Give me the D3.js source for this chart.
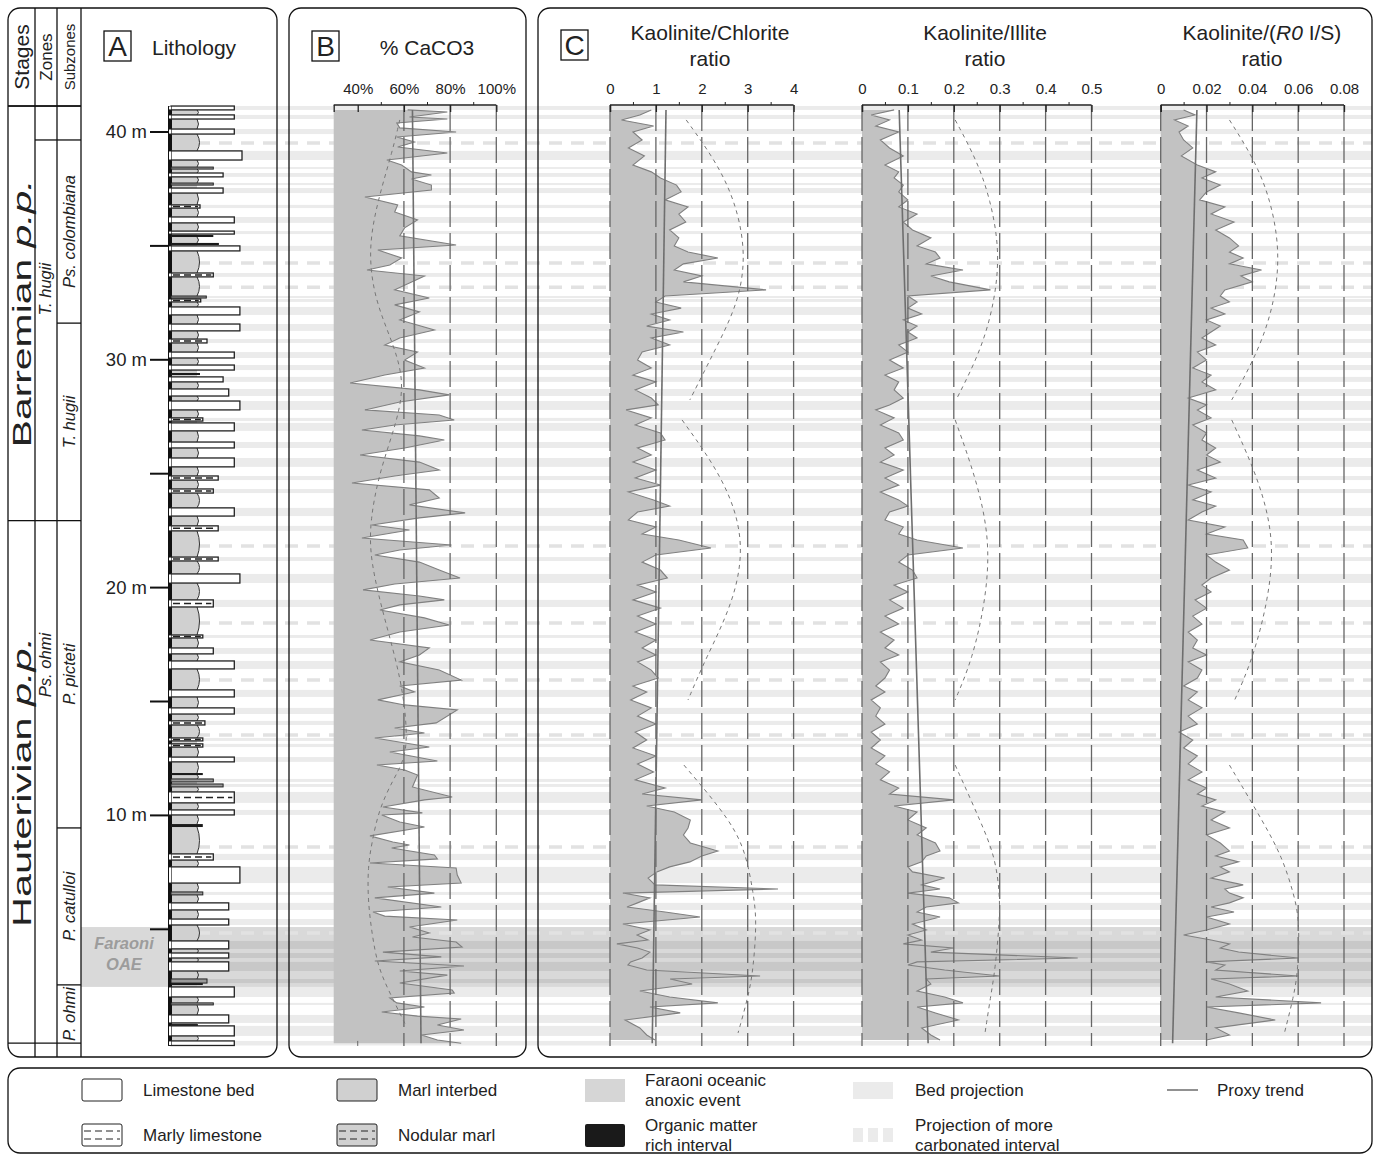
<!DOCTYPE html>
<html><head><meta charset="utf-8">
<script src="https://cdn.jsdelivr.net/npm/d3@7"></script>
<style>body{margin:0;background:#fff;} text{font-family:"Liberation Sans",Arial,sans-serif;fill:#222;}</style>
</head><body>
<svg id="c" width="1378" height="1155"></svg>
<script>
// ---------------- DATA ----------------
const depthTicks = [40,35,30,25,20,15,10,5];
const depthLabels = {40:"40 m",30:"30 m",20:"20 m",10:"10 m"};

// CaCO3 (%)
const caco3Depth = [40.97,40.88,40.66,40.57,40.40,40.18,40.00,39.78,39.56,39.34,39.08,38.77,38.55,38.25,38.11,37.94,37.67,37.45,37.15,36.80,36.49,36.14,35.79,35.44,35.04,34.82,34.47,34.16,33.94,33.68,33.37,33.07,32.71,32.41,32.10,31.75,31.31,30.96,30.65,30.34,29.99,29.64,29.33,28.98,28.68,28.46,28.15,27.80,27.58,27.36,27.14,26.92,26.66,26.48,26.13,25.82,25.51,25.16,24.90,24.59,24.29,23.93,23.63,23.28,23.06,22.75,22.53,22.18,21.87,21.65,21.43,21.12,20.77,20.42,20.16,19.90,19.63,19.46,19.24,19.02,18.67,18.36,18.05,17.70,17.35,17.04,16.74,16.38,15.94,15.68,15.42,15.07,14.85,14.63,14.06,13.84,13.62,13.40,13.00,12.78,12.39,12.21,11.99,11.77,11.25,10.81,10.68,10.37,10.11,10.02,9.71,9.49,9.10,8.83,8.70,8.57,8.26,8.09,7.91,7.69,7.38,7.03,6.86,6.59,6.38,5.98,5.76,5.58,5.41,5.10,4.84,4.66,4.44,4.22,4.00,3.79,3.61,3.39,3.17,2.99,2.64,2.34,2.20,1.99,1.77,1.59,1.37,1.19,1.06,0.80,0.58,0.36,0.14,0.0];
const caco3Value = [61.6,78.8,62.4,78.8,56.9,58.2,82.6,56.9,64.6,57.3,78.8,52.6,59.0,63.3,71.9,63.3,71.9,71.9,43.1,57.3,56.0,65.9,60.3,58.2,82.6,48.7,59.0,53.9,44.0,68.9,62.4,56.0,71.0,56.0,66.7,58.2,73.2,58.2,51.7,65.9,60.3,68.9,51.7,36.7,66.7,79.6,58.2,43.1,75.3,81.8,56.0,41.8,66.7,77.5,60.3,41.0,66.7,75.3,56.0,37.5,71.0,75.3,62.4,86.5,66.7,46.1,62.4,41.8,80.5,58.2,47.4,66.7,75.3,84.3,56.0,42.3,66.7,77.5,58.2,49.6,68.9,79.6,58.2,45.3,71.0,66.7,58.2,75.3,84.8,58.2,64.6,48.7,60.3,83.1,74.0,56.0,68.9,47.4,71.0,53.9,74.5,48.3,60.3,65.9,63.7,80.9,68.9,50.9,68.0,50.4,58.2,68.9,45.3,55.2,62.4,54.7,73.2,74.5,45.3,82.6,83.1,84.8,53.0,73.2,47.4,76.2,46.6,51.7,83.1,62.4,71.0,63.7,82.6,85.2,50.9,76.2,47.4,86.0,58.2,78.8,58.2,80.9,81.8,53.9,56.9,68.9,50.4,65.9,84.8,74.5,86.0,67.6,74.5,84.8];
const caco3TrendDepth = [40.97, 0.0];
const caco3TrendValue = [63.7, 67.4];
const caco3CycleDepth = [40.53,39.21,37.02,34.82,32.63,30.87,29.11,27.36,25.16,22.97,21.21,18.58,15.94,13.62,12.43,11.55,10.24,8.79,7.74,6.29,4.84,3.35,2.20,0.71];
const caco3CycleValue = [58.2,55.2,48.7,44.4,47.4,54.7,60.3,57.3,49.6,45.3,45.3,51.7,59.0,61.6,60.3,55.2,49.1,46.1,44.4,44.4,46.1,48.7,53.9,61.2];

// Clay mineral samples (shared depths, m)
const clayDepth = [40.97,40.75,40.53,40.26,40.00,39.65,39.30,38.95,38.55,38.25,37.98,37.67,37.37,37.02,36.71,36.40,36.05,35.70,35.35,35.00,34.73,34.47,34.21,33.94,33.68,33.42,33.07,32.80,32.54,32.27,32.01,31.75,31.48,31.22,30.96,30.65,30.34,29.99,29.64,29.33,29.03,28.68,28.32,28.02,27.80,27.45,27.14,26.79,26.48,26.13,25.82,25.51,25.16,24.81,24.50,24.20,23.85,23.58,23.32,22.97,22.66,22.35,22.09,21.74,21.43,21.12,20.77,20.42,20.11,19.81,19.46,19.10,18.75,18.40,18.05,17.70,17.35,17.04,16.74,16.38,16.03,15.68,15.42,15.07,14.72,14.36,14.01,13.66,13.31,12.96,12.61,12.26,11.91,11.56,11.20,10.94,10.68,10.41,10.15,9.80,9.45,9.14,8.79,8.44,8.22,7.96,7.74,7.52,7.25,6.95,6.77,6.59,6.38,6.16,5.98,5.76,5.54,5.23,4.97,4.75,4.53,4.36,4.18,4.00,3.74,3.57,3.43,3.21,2.95,2.82,2.60,2.29,2.03,1.77,1.59,1.33,1.02,0.67,0.36,0.14];
const kaoChlorite = [0.9,0.65,0.25,0.95,0.5,0.7,0.4,0.75,0.5,0.9,1.1,1.45,1.55,1.2,1.7,1.5,1.65,1.3,1.5,1.4,1.7,2.35,1.6,1.4,2.0,1.6,3.4,1.2,1.0,1.55,0.9,1.3,0.8,1.6,0.9,1.3,0.7,0.6,0.9,0.5,1.0,0.55,0.9,1.05,0.35,0.9,0.55,1.1,1.2,0.6,0.9,0.5,1.0,0.55,1.1,0.4,0.95,1.3,0.6,0.4,1.0,0.7,1.5,2.2,1.0,0.7,1.1,1.25,0.6,1.0,0.5,1.1,0.6,1.0,0.55,1.0,0.7,1.0,0.6,0.9,1.05,0.5,0.8,0.45,0.9,0.6,1.0,0.55,0.8,0.5,1.0,0.6,0.95,0.55,1.2,0.7,2.0,0.8,1.4,1.75,1.7,1.6,1.75,2.35,2.0,1.74,1.3,1.02,0.83,0.98,3.66,0.28,0.87,0.6,0.37,1.2,1.96,0.28,0.87,0.59,0.83,0.15,0.6,0.87,0.7,0.45,0.39,0.8,3.27,1.31,1.79,0.65,1.3,2.35,0.87,1.53,0.33,0.65,0.8,0.98];
const kaoIllite = [0.07,0.02,0.06,0.03,0.08,0.04,0.06,0.09,0.05,0.08,0.07,0.09,0.08,0.1,0.08,0.12,0.09,0.11,0.15,0.12,0.16,0.17,0.14,0.22,0.15,0.19,0.28,0.1,0.12,0.1,0.13,0.09,0.12,0.1,0.12,0.08,0.1,0.06,0.09,0.05,0.08,0.07,0.09,0.06,0.03,0.07,0.04,0.08,0.09,0.05,0.07,0.04,0.09,0.05,0.08,0.04,0.08,0.1,0.06,0.05,0.09,0.08,0.12,0.22,0.1,0.08,0.11,0.12,0.07,0.1,0.06,0.09,0.05,0.08,0.04,0.07,0.05,0.08,0.04,0.06,0.05,0.03,0.05,0.02,0.04,0.03,0.05,0.02,0.04,0.02,0.05,0.03,0.06,0.04,0.08,0.06,0.2,0.07,0.12,0.1,0.14,0.12,0.16,0.17,0.14,0.13,0.1,0.11,0.18,0.13,0.17,0.1,0.19,0.21,0.14,0.12,0.17,0.11,0.14,0.1,0.13,0.09,0.2,0.15,0.47,0.12,0.1,0.18,0.3,0.14,0.15,0.12,0.18,0.22,0.12,0.16,0.21,0.13,0.15,0.17];
const kaoR0IS = [0.01,0.015,0.006,0.012,0.008,0.01,0.014,0.009,0.016,0.024,0.018,0.026,0.02,0.017,0.028,0.022,0.032,0.024,0.03,0.034,0.03,0.036,0.03,0.044,0.035,0.04,0.028,0.026,0.03,0.022,0.028,0.02,0.026,0.022,0.018,0.024,0.016,0.02,0.014,0.022,0.018,0.024,0.012,0.02,0.016,0.022,0.014,0.02,0.018,0.024,0.02,0.026,0.016,0.024,0.012,0.022,0.014,0.024,0.018,0.012,0.028,0.02,0.036,0.038,0.02,0.024,0.03,0.022,0.018,0.022,0.015,0.02,0.014,0.018,0.012,0.016,0.014,0.02,0.012,0.018,0.016,0.01,0.016,0.012,0.018,0.012,0.016,0.008,0.014,0.01,0.016,0.012,0.018,0.012,0.02,0.016,0.024,0.018,0.028,0.022,0.03,0.02,0.026,0.03,0.024,0.034,0.026,0.03,0.022,0.036,0.028,0.03,0.036,0.03,0.022,0.032,0.02,0.03,0.02,0.01,0.022,0.03,0.026,0.034,0.06,0.02,0.028,0.024,0.06,0.022,0.03,0.038,0.024,0.07,0.02,0.034,0.05,0.024,0.03,0.02];

// proxy trends [top, base]
const trendDepth = [40.97, 0.0];
const kcTrend = [1.22, 0.92];
const kiTrend = [0.081, 0.144];
const krTrend = [0.0158, 0.0052];

// cyclic (dashed) envelopes, three arcs each
const cycleArcDepth = [
  [40.53,38.77,37.02,34.82,32.63,30.43,28.24],
  [27.36,24.72,22.09,19.46,16.82,15.07],
  [12.21,9.67,8.17,6.59,5.41,3.21,2.03,0.45]
];
const kcCycle = [[1.66,2.29,2.72,2.96,2.83,2.29,1.74],[1.57,2.51,2.94,2.72,2.07,1.70],[1.61,2.68,2.98,3.12,3.20,3.12,3.01,2.79]];
const kiCycle = [[0.203,0.25,0.28,0.30,0.29,0.26,0.205],[0.203,0.25,0.279,0.27,0.24,0.203],[0.203,0.26,0.29,0.30,0.30,0.29,0.28,0.268]];
const krCycle = [[0.030,0.041,0.048,0.052,0.050,0.043,0.031],[0.031,0.043,0.0497,0.047,0.040,0.0323],[0.030,0.045,0.053,0.058,0.0606,0.060,0.058,0.054]];

// Lithology beds: top depth, base depth, relief (0..1), type
// L limestone, M marly limestone, T thin marly bed, O organic-matter rich
const bedTop  = [41.14,40.75,40.13,39.17,38.46,38.20,37.76,37.54,36.80,36.27,35.65,35.48,35.13,35.00,33.81,32.80,32.67,32.32,31.57,30.91,30.34,29.77,29.42,29.25,28.72,28.19,27.45,27.23,26.39,25.69,24.90,24.33,23.50,22.71,21.34,20.60,19.46,17.92,17.35,16.78,15.51,14.72,14.15,13.40,13.14,12.56,11.86,11.60,11.38,11.03,10.24,9.62,8.31,7.74,6.64,6.16,5.45,4.49,3.96,3.57,2.82,2.64,2.47,1.77,1.24,0.84,0.76,0.10];
const bedBase = [40.97,40.57,39.91,38.77,38.38,38.03,37.67,37.32,36.66,36.01,35.52,35.39,35.04,34.78,33.64,32.71,32.54,31.97,31.27,30.74,30.08,29.55,29.38,29.03,28.41,27.80,27.31,26.88,26.13,25.30,24.72,24.15,23.14,22.49,21.17,20.20,19.15,17.79,17.09,16.43,15.20,14.45,13.97,13.27,13.00,12.35,11.77,11.47,11.25,10.55,10.02,9.49,8.04,7.03,6.51,5.85,5.19,4.14,3.74,3.17,2.64,2.56,2.03,1.68,0.89,0.76,0.32,-0.10];
const bedRelief = [0.89,0.89,0.89,1.0,0.59,0.73,0.59,0.73,0.40,0.89,0.89,0.59,0.67,0.97,0.59,0.49,0.41,0.97,0.97,0.50,0.89,0.89,0.40,0.73,0.81,0.97,0.44,0.89,0.89,0.89,0.66,0.59,0.89,0.66,0.66,0.97,0.59,0.44,0.59,0.89,0.89,0.89,0.47,0.44,0.44,0.89,0.44,0.59,0.73,0.89,0.89,0.44,0.59,0.97,0.44,0.81,0.81,0.81,0.81,0.81,0.50,0.44,0.89,0.59,0.81,0.37,0.89,0.89];
const bedType = ["L","L","L","L","T","L","T","L","M","L","L","O","O","L","M","T","M","L","L","M","L","L","O","L","L","L","M","L","L","L","M","M","L","M","M","L","M","M","L","L","L","L","M","M","M","L","O","T","T","M","L","O","M","L","T","L","L","L","L","L","T","O","L","T","L","O","L","L"];

// projections of more carbonated intervals (depth, m)
const carbonatedDepth = [39.52,34.25,33.19,21.83,18.45,15.94,13.53,8.61,4.84];
// Faraoni oceanic anoxic event
const faraoniTop = 5.10, faraoniBase = 2.47;

// Biostratigraphy
const stageName = ["Barremian","Hauterivian"];
const stageTop = [41.14,22.94];
const stageBase = [22.94,0];
const stageLabelLength = [268,290];
const zoneName = ["","T. hugii","Ps. ohmi"];
const zoneTop = [41.14,39.65,22.94];
const zoneBase = [39.65,22.94,0];
const zoneLabelDepth = [40.4,33.1,16.6];
const subzoneName = ["","Ps. colombiana","T. hugii","P. picteti","P. catulloi","P. ohmi"];
const subzoneTop = [41.14,39.65,31.61,22.94,9.45,2.56];
const subzoneBase = [39.65,31.61,22.94,9.45,2.56,0];

// axis ticks
const caco3Ticks = [40,60,80,100], caco3Minor=[50,70,90];
const kcTicks = [0,1,2,3,4], kcMinor=[0.5,1.5,2.5,3.5];
const kiTicks = [0,0.1,0.2,0.3,0.4,0.5], kiMinor=[0.05,0.15,0.25,0.35,0.45];
const krTicks = [0,0.02,0.04,0.06,0.08], krMinor=[0.01,0.03,0.05,0.07];

// ---------------- DRAWING ----------------
const svg = d3.select("#c");
const y = d3.scaleLinear().domain([0,40]).range([1043.2,132]);
const plotTop = 105, plotBot = y(-0.12);
const relief = d3.scaleLinear().domain([0,1]).range([172,242]);
const xCa = d3.scaleLinear().domain([29.6,100]).range([333.7,496.3]);
const xKC = d3.scaleLinear().domain([0,4]).range([610,793.6]);
const xKI = d3.scaleLinear().domain([0,0.5]).range([862,1091.5]);
const xKR = d3.scaleLinear().domain([0,0.08]).range([1160.7,1344]);
const RIGHT = 1372;

svg.append("rect").attr("width",1378).attr("height",1155).attr("fill","#fff");

const beds = bedTop.map((t,i)=>({top:t,base:bedBase[i],r:bedRelief[i],type:bedType[i]}));

// bed projections
svg.append("g").selectAll("rect").data(beds.filter(b=>b.type!=="O")).join("rect")
  .attr("x",d=>relief(d.r)).attr("y",d=>y(d.top)).attr("width",d=>RIGHT-relief(d.r))
  .attr("height",d=>Math.max(1.5,y(d.base)-y(d.top))).attr("fill","#ebebeb");

// Faraoni OAE band
svg.append("rect").attr("x",81).attr("y",y(faraoniTop)).attr("width",RIGHT-81)
  .attr("height",y(faraoniBase)-y(faraoniTop)).attr("fill","#000").attr("opacity",0.15);

// carbonated projections
svg.append("g").selectAll("line").data(carbonatedDepth).join("line")
  .attr("x1",197).attr("x2",RIGHT).attr("y1",d=>y(d)).attr("y2",d=>y(d))
  .attr("stroke","#e2e2e2").attr("stroke-width",3.5).attr("stroke-dasharray","13,9");

function series(depths, vals){ return depths.map((d,i)=>({d:d,v:vals[i]})); }

function drawCurve(xs, depths, vals, base){
  const data = series(depths, vals);
  const area = d3.area().y(d=>y(d.d)).x0(xs(base)).x1(d=>xs(d.v));
  svg.append("path").datum(data).attr("d",area).attr("fill","#c2c2c2");
  const line = d3.line().y(d=>y(d.d)).x(d=>xs(d.v));
  svg.append("path").datum(data).attr("d",line).attr("fill","none").attr("stroke","#808080").attr("stroke-width",1.1);
}
function drawTrend(xs, depths, vals){
  const line = d3.line().y(d=>y(d.d)).x(d=>xs(d.v));
  svg.append("path").datum(series(depths,vals)).attr("d",line).attr("fill","none").attr("stroke","#6e6e6e").attr("stroke-width",1.6);
}
function drawCycle(xs, depths, vals){
  const line = d3.line().curve(d3.curveBasis).y(d=>y(d.d)).x(d=>xs(d.v));
  svg.append("path").datum(series(depths,vals)).attr("d",line).attr("fill","none").attr("stroke","#777").attr("stroke-width",1).attr("stroke-dasharray","4,4");
}
function drawGrid(xs, ticks){
  svg.append("g").selectAll("line").data(ticks).join("line")
    .attr("x1",d=>xs(d)).attr("x2",d=>xs(d)).attr("y1",plotTop).attr("y2",plotBot)
    .attr("stroke","#666").attr("stroke-width",1.3).attr("stroke-dasharray","26,6");
}
function drawAxis(xs, ticks, minor, fmt, startVal){
  const g = svg.append("g").attr("transform",`translate(0,${plotTop})`);
  const ax = d3.axisTop(xs).tickValues(ticks).tickSize(0).tickPadding(11).tickFormat(fmt);
  g.call(ax);
  g.select(".domain").remove();
  g.selectAll("text").attr("font-size",15).attr("font-family","Liberation Sans, Arial").attr("fill","#222");
  g.append("line").attr("x1",xs(startVal)).attr("x2",xs(ticks[ticks.length-1])).attr("stroke","#222").attr("stroke-width",1.3);
  const gm = svg.append("g").attr("transform",`translate(0,${plotTop})`);
  gm.call(d3.axisTop(xs).tickValues(minor).tickSize(3).tickFormat(""));
  gm.select(".domain").remove();
  gm.selectAll("line").attr("stroke","#222");
  const gM = svg.append("g").attr("transform",`translate(0,${plotTop})`);
  gM.call(d3.axisBottom(xs).tickValues([startVal].concat(ticks)).tickSize(7).tickFormat(""));
  gM.select(".domain").remove();
  gM.selectAll("line").attr("stroke","#222").attr("stroke-width",1.3);
}

// Panel B
drawCurve(xCa, caco3Depth, caco3Value, 29.6);
drawGrid(xCa, [60,80,100]);
svg.append("g").selectAll("line").data([40]).join("line").attr("x1",d=>xCa(d)).attr("x2",d=>xCa(d)).attr("y1",plotBot-5).attr("y2",plotBot).attr("stroke","#666");
drawTrend(xCa, caco3TrendDepth, caco3TrendValue);
drawCycle(xCa, caco3CycleDepth, caco3CycleValue);
drawAxis(xCa, caco3Ticks, caco3Minor, d=>d+"%", 29.6);

// Panel C
const clayPlots = [
  {xs:xKC, vals:kaoChlorite, trend:kcTrend, cyc:kcCycle, ticks:kcTicks, minor:kcMinor, fmt:d=>d},
  {xs:xKI, vals:kaoIllite, trend:kiTrend, cyc:kiCycle, ticks:kiTicks, minor:kiMinor, fmt:d=>d},
  {xs:xKR, vals:kaoR0IS, trend:krTrend, cyc:krCycle, ticks:krTicks, minor:krMinor, fmt:d=>d}
];
clayPlots.forEach(p=>{
  drawCurve(p.xs, clayDepth, p.vals, 0);
  drawGrid(p.xs, p.ticks);
  drawTrend(p.xs, trendDepth, p.trend);
  p.cyc.forEach((arc,k)=>drawCycle(p.xs, cycleArcDepth[k], arc));
  drawAxis(p.xs, p.ticks, p.minor, p.fmt, 0);
});

// ---------- Lithology ----------
const colTop = y(41.14), colBot = y(-0.12);
svg.append("rect").attr("x",171).attr("y",colTop).attr("width",26).attr("height",colBot-colTop).attr("fill","#d0d0d0");
const sorted = beds.slice().sort((a,b)=>b.top-a.top);
let edge = "";
for(let i=0;i<sorted.length-1;i++){
  const a=y(sorted[i].base), b=y(sorted[i+1].top);
  if(b-a>3){ edge += `M197,${a}Q${197+(b-a>12?5:3)},${(a+b)/2} 197,${b}`; }
}
svg.append("path").attr("d",edge).attr("fill","#d0d0d0").attr("stroke","#333").attr("stroke-width",1);
svg.append("rect").attr("x",168).attr("y",colTop).attr("width",3).attr("height",colBot-colTop).attr("fill","#111");
svg.append("line").attr("x1",171.5).attr("x2",171.5).attr("y1",colTop).attr("y2",colBot).attr("stroke","#111").attr("stroke-width",1);

const bg = svg.append("g");
beds.forEach(b=>{
  const x1=relief(b.r), y1=y(b.top), h=Math.max(2,y(b.base)-y(b.top));
  if(b.type==="O"){
    bg.append("rect").attr("x",171).attr("y",y1).attr("width",x1-171).attr("height",h).attr("fill","#1a1a1a");
  } else if(b.type==="T"){
    bg.append("rect").attr("x",171).attr("y",y1).attr("width",x1-171).attr("height",h).attr("fill","#9a9a9a").attr("stroke","#222").attr("stroke-width",1);
  } else {
    bg.append("rect").attr("x",171).attr("y",y1).attr("width",x1-171).attr("height",h).attr("fill","#fff").attr("stroke","#222").attr("stroke-width",1.3);
    if(b.type==="M"){
      bg.append("line").attr("x1",173).attr("x2",x1-2).attr("y1",y1+h/2).attr("y2",y1+h/2).attr("stroke","#222").attr("stroke-width",1.5).attr("stroke-dasharray","7,4");
    }
    bg.append("rect").attr("x",169).attr("y",y1+0.5).attr("width",2).attr("height",Math.max(1,h-1)).attr("fill","#fff");
  }
});

// depth ticks
const dt = svg.append("g");
dt.selectAll("line").data(depthTicks).join("line").attr("x1",150).attr("x2",168).attr("y1",d=>y(d)).attr("y2",d=>y(d)).attr("stroke","#111").attr("stroke-width",2);
dt.selectAll("text").data(depthTicks.filter(d=>depthLabels[d])).join("text")
  .attr("x",147).attr("y",d=>y(d)+6).attr("text-anchor","end").attr("font-size",18.5).text(d=>depthLabels[d]);

// Faraoni label
svg.append("text").attr("x",124).attr("y",y(faraoniTop)+22).attr("text-anchor","middle").attr("font-size",16.5).attr("font-weight","bold").attr("font-style","italic").style("fill","#9c9c9c").text("Faraoni");
svg.append("text").attr("x",124).attr("y",y(faraoniTop)+43).attr("text-anchor","middle").attr("font-size",16.5).attr("font-weight","bold").attr("font-style","italic").style("fill","#9c9c9c").text("OAE");

// ---------- Panel frames ----------
function frame(x,yy,w,h){ svg.append("rect").attr("x",x).attr("y",yy).attr("width",w).attr("height",h).attr("rx",12).attr("fill","none").attr("stroke","#111").attr("stroke-width",1.3); }
frame(8,8,269,1049); frame(289,8,237,1049); frame(538,8,834,1049); frame(8,1068,1364,85);

[35,57,81].forEach(x=>svg.append("line").attr("x1",x).attr("x2",x).attr("y1",8).attr("y2",1057).attr("stroke","#111").attr("stroke-width",1.3));
function hline(x1,x2,yy){ svg.append("line").attr("x1",x1).attr("x2",x2).attr("y1",yy).attr("y2",yy).attr("stroke","#111").attr("stroke-width",1.3); }
hline(8,81,106);
stageTop.forEach(t=>hline(8,35,y(t)));
zoneTop.forEach(t=>hline(35,57,y(t)));
subzoneTop.forEach(t=>hline(57,81,y(t)));
hline(8,81,y(0));

function vtext(x,yy,size,parts,len){
  const t = svg.append("text").attr("transform",`translate(${x},${yy}) rotate(-90)`).attr("text-anchor","middle").attr("font-size",size);
  if(len){ t.attr("textLength",len).attr("lengthAdjust","spacingAndGlyphs"); }
  parts.forEach(p=>t.append("tspan").attr("font-style",p[1]?"italic":"normal").text(p[0]));
  return t;
}
vtext(29,57,21,[["Stages",0]]);
vtext(52,57,17,[["Zones",0]]);
vtext(75,57,15,[["Subzones",0]]);
stageName.forEach((n,i)=>vtext(31,(y(stageTop[i])+y(stageBase[i]))/2,25,[[n+" ",0],["p.p.",1]],stageLabelLength[i]));
zoneName.forEach((n,i)=>{ if(n) vtext(51,y(zoneLabelDepth[i]),16.5,[[n,1]]); });
subzoneName.forEach((n,i)=>{ if(n) vtext(75,(y(subzoneTop[i])+y(subzoneBase[i]))/2,16.5,[[n,1]]); });

// panel titles
function letterBox(x,yy,l){
  svg.append("rect").attr("x",x).attr("y",yy).attr("width",27).attr("height",30).attr("fill","#fff").attr("stroke","#111").attr("stroke-width",1.3);
  svg.append("text").attr("x",x+13.5).attr("y",yy+25).attr("text-anchor","middle").attr("font-size",28).text(l);
}
letterBox(104,31,"A"); letterBox(312,31,"B"); letterBox(561,30,"C");
svg.append("text").attr("x",152).attr("y",55).attr("font-size",21).text("Lithology");
svg.append("text").attr("x",427).attr("y",55).attr("text-anchor","middle").attr("font-size",21).text("% CaCO3");
svg.append("text").attr("x",710).attr("y",40).attr("text-anchor","middle").attr("font-size",21).text("Kaolinite/Chlorite");
svg.append("text").attr("x",985).attr("y",40).attr("text-anchor","middle").attr("font-size",21).text("Kaolinite/Illite");
const t3 = svg.append("text").attr("x",1262).attr("y",40).attr("text-anchor","middle").attr("font-size",21);
t3.append("tspan").text("Kaolinite/(");t3.append("tspan").attr("font-style","italic").text("R0");t3.append("tspan").text(" I/S)");
[710,985,1262].forEach(x=>svg.append("text").attr("x",x).attr("y",66).attr("text-anchor","middle").attr("font-size",21).text("ratio"));

// ---------- Legend ----------
const lg = svg.append("g");
function ltext(x,yy,s){ lg.append("text").attr("x",x).attr("y",yy).attr("font-size",17).text(s); }
lg.append("rect").attr("x",82).attr("y",1079).attr("width",40).attr("height",22).attr("rx",2).attr("fill","#fff").attr("stroke","#222");
ltext(143,1096,"Limestone bed");
lg.append("rect").attr("x",82).attr("y",1124).attr("width",40).attr("height",22).attr("rx",2).attr("fill","#fff").attr("stroke","#222");
lg.append("line").attr("x1",84).attr("x2",120).attr("y1",1131).attr("y2",1131).attr("stroke","#222").attr("stroke-dasharray","7,4");
lg.append("line").attr("x1",84).attr("x2",120).attr("y1",1139).attr("y2",1139).attr("stroke","#222").attr("stroke-dasharray","7,4");
ltext(143,1141,"Marly limestone");
lg.append("rect").attr("x",337).attr("y",1079).attr("width",40).attr("height",22).attr("rx",2).attr("fill","#d0d0d0").attr("stroke","#222");
ltext(398,1096,"Marl interbed");
lg.append("rect").attr("x",337).attr("y",1124).attr("width",40).attr("height",22).attr("rx",2).attr("fill","#d0d0d0").attr("stroke","#222");
lg.append("line").attr("x1",339).attr("x2",375).attr("y1",1131).attr("y2",1131).attr("stroke","#222").attr("stroke-dasharray","7,4");
lg.append("line").attr("x1",339).attr("x2",375).attr("y1",1139).attr("y2",1139).attr("stroke","#222").attr("stroke-dasharray","7,4");
ltext(398,1141,"Nodular marl");
lg.append("rect").attr("x",585).attr("y",1079).attr("width",40).attr("height",23).attr("fill","#d6d6d6");
ltext(645,1086,"Faraoni oceanic"); ltext(645,1106,"anoxic event");
lg.append("rect").attr("x",585).attr("y",1124).attr("width",40).attr("height",23).attr("rx",2).attr("fill","#1a1a1a");
ltext(645,1131,"Organic matter"); ltext(645,1151,"rich interval");
lg.append("rect").attr("x",853).attr("y",1082).attr("width",40).attr("height",17).attr("fill","#ebebeb");
ltext(915,1096,"Bed projection");
[853,868,883].forEach(x=>lg.append("rect").attr("x",x).attr("y",1128).attr("width",10).attr("height",14).attr("fill","#ebebeb"));
ltext(915,1131,"Projection of more"); ltext(915,1151,"carbonated interval");
lg.append("line").attr("x1",1167).attr("x2",1198).attr("y1",1090).attr("y2",1090).attr("stroke","#555").attr("stroke-width",1.3);
ltext(1217,1096,"Proxy trend");
</script>
</body></html>
